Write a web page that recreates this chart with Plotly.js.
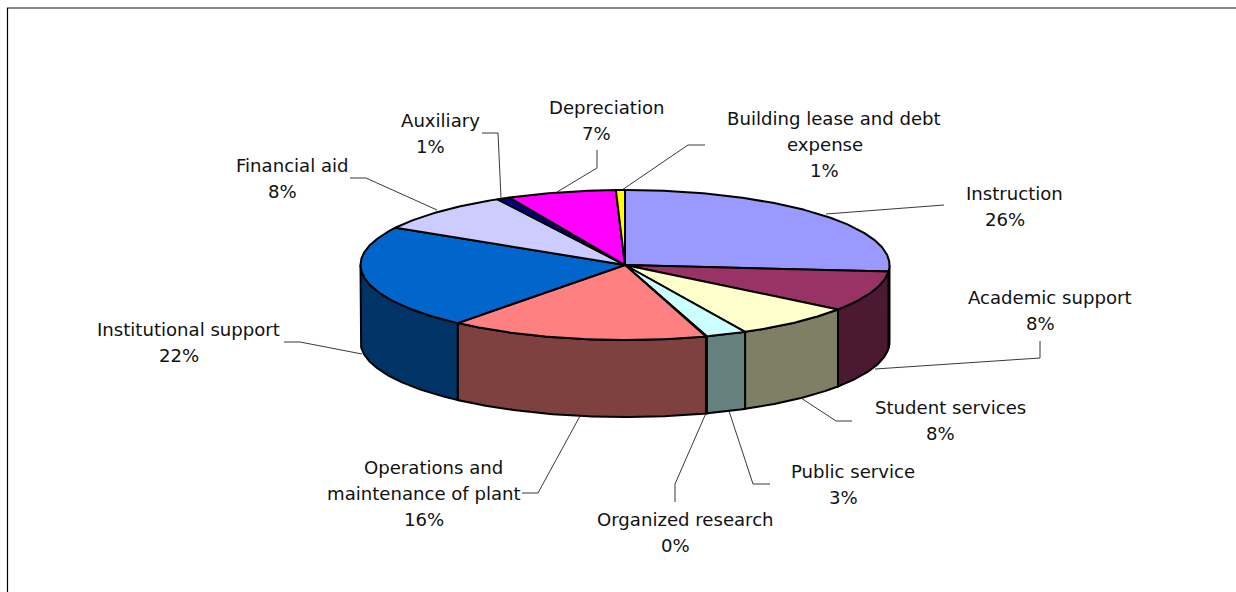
<!DOCTYPE html>
<html><head><meta charset="utf-8">
<script src="https://cdn.plot.ly/plotly-3.0.1.min.js"></script>
<style>html,body{margin:0;padding:0;background:#fff}#c{width:1236px;height:592px}</style>
</head><body><div id="c"></div>
<script>
const categories = [["Instruction"],["Academic support"],["Student services"],["Public service"],["Organized research"],["Operations and","maintenance of plant"],["Institutional support"],["Financial aid"],["Auxiliary"],["Depreciation"],["Building lease and debt","expense"]];
const percentLabels = ["26%","8%","8%","3%","0%","16%","22%","8%","1%","7%","1%"];
const values = [26.4,8.7,7.4,2.5,0.05,15.85,22.4,8.7,0.8,6.65,0.55];
const topColors = ["#9999FF","#993366","#FFFFCC","#CCFFFF","#660066","#FF8080","#0066CC","#CCCCFF","#000080","#FF00FF","#FFFF00"];
const sideColors = ["#4C4C7F","#4C1933","#7F7F66","#667F7F","#330033","#7F4040","#003366","#66667F","#000040","#7F007F","#7F7F00"];
const labelX = [1014,1050,950,853,685,433.5,188,292,440,606,834];
const labelY = [193,297,407,471,519,467,329,165,120,107,118];
const leaderX = [[826,944],[875,1040,1040],[801,836,852],[729,753,770],[706,675,675],[580,538,522],[362,300,284],[437,366,350],[501,498,482],[557,597,597],[622,688,705]];
const leaderY = [[214,205],[369,358,341],[398,421,421],[411,484,484],[413,484,502],[416,493,493],[354,342,342],[210,178,178],[198,133,133],[192,168,150],[190,145,145]];
const cx = 625, cy = 265, rx = 264.5, ry = 75, depth = 77, lineGap = 26.4, laterLineShift = -9.5;

const total = values.reduce((a,b)=>a+b,0);
const px = t => cx + rx*Math.sin(t);
const py = (t,d) => cy - ry*Math.cos(t) + d;
function arc(a,b){ const n=Math.max(2,Math.ceil(Math.abs(b-a)/0.01)); const r=[]; for(let i=0;i<=n;i++) r.push(a+(b-a)*i/n); return r; }

const sides=[], tops=[]; let cum=0;
values.forEach((v,i)=>{
  const a=cum/total*2*Math.PI; cum+=v; const b=cum/total*2*Math.PI;
  const t=arc(a,b);
  tops.push({type:'scatter',mode:'lines',x:[cx,...t.map(px),cx],y:[cy,...t.map(q=>py(q,0)),cy],fill:'toself',fillcolor:topColors[i],line:{color:'#000',width:2},hoverinfo:'skip'});
  const s=Math.max(a,Math.PI/2), e=Math.min(b,1.5*Math.PI);
  if(e>s){
    const f=arc(s,e), rev=[...f].reverse();
    sides.push({type:'scatter',mode:'lines',x:[...f.map(px),...rev.map(px),px(s)],y:[...f.map(q=>py(q,0)),...rev.map(q=>py(q,depth)),py(s,0)],fill:'toself',fillcolor:sideColors[i],line:{color:'#000',width:2},hoverinfo:'skip'});
  }
});
const leaders=leaderX.map((x,i)=>({type:'scatter',mode:'lines',x:x,y:leaderY[i],line:{color:'#222',width:0.9},hoverinfo:'skip'}));
const annotations=[];
categories.forEach((lines,i)=>{
  [...lines,percentLabels[i]].forEach((txt,j)=>{
    annotations.push({x:labelX[i]+(j>0?laterLineShift:0),y:labelY[i]+j*lineGap,xref:'x',yref:'y',showarrow:false,xanchor:'center',yanchor:'middle',align:'center',
      text:txt,font:{family:'DejaVu Sans, Verdana, sans-serif',size:18.1,color:'#111'}});
  });
});

Plotly.newPlot('c',[...leaders,...sides,...tops],{
  width:1236,height:592,margin:{l:0,r:0,t:0,b:0},showlegend:false,paper_bgcolor:'#fff',plot_bgcolor:'#fff',
  xaxis:{range:[0,1236],visible:false,fixedrange:true},yaxis:{range:[592,0],visible:false,fixedrange:true},annotations:annotations,
  shapes:[
    {type:'line',xref:'x',yref:'y',x0:7,x1:1236,y0:8,y1:8,line:{color:'#111',width:1.2}},
    {type:'line',xref:'x',yref:'y',x0:7.5,x1:7.5,y0:8,y1:592,line:{color:'#000',width:1.2}}
  ]
},{displayModeBar:false,staticPlot:true});
</script></body></html>
